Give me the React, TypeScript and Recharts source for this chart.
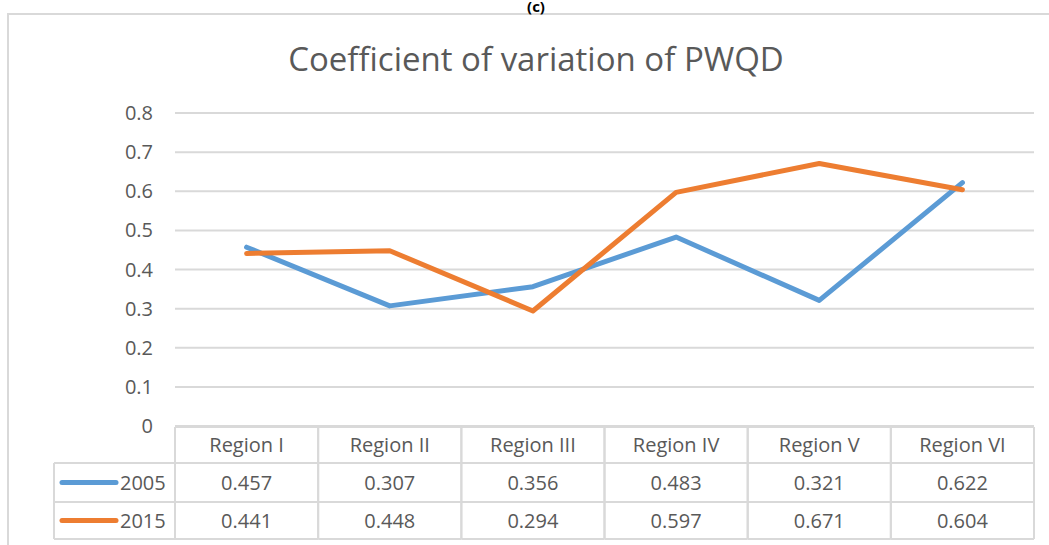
import React from 'react';
import { LineChart, Line, XAxis, YAxis, CartesianGrid, Customized } from 'recharts';

const categories = ['Region I', 'Region II', 'Region III', 'Region IV', 'Region V', 'Region VI'];
const series2005 = [0.457, 0.307, 0.356, 0.483, 0.321, 0.622];
const series2015 = [0.441, 0.448, 0.294, 0.597, 0.671, 0.604];
const seriesNames = ['2005', '2015'];
const yTicks = [0, 0.1, 0.2, 0.3, 0.4, 0.5, 0.6, 0.7, 0.8];
const titleText = 'Coefficient of variation of PWQD';
const panelLabel = '(c)';

const W = 1049;
const H = 545;
const ML = 175;
const MR = 15;
const MT = 113;
const MB = 119;
const CELL_W = (W - ML - MR) / categories.length;
const GRID = '#d9d9d9';
const TXT = '#595959';
const FONT = '"Open Sans", sans-serif';
const FS = 20;
const BLUE = '#5b9bd5';
const ORANGE = '#ed7d31';
const COLORS = [BLUE, ORANGE];
const SERIES = [series2005, series2015];

const data = categories.map((c, i) => ({ name: c, s2005: series2005[i], s2015: series2015[i] }));

// row offsets from the plot bottom
const R0 = 1, R1 = 37, R2 = 76, R3 = 113;

const TableTick = (props: any) => {
  const { x, y, payload, index } = props;
  const left = x - CELL_W / 2;
  const right = x + CELL_W / 2;
  const rows = [R0, R1, R2, R3];
  return (
    <g>
      {rows.map((r) => (
        <line key={r} x1={left} x2={right} y1={y + r} y2={y + r} stroke={GRID} strokeWidth={2} />
      ))}
      <line x1={left} x2={left} y1={y + R0} y2={y + R3} stroke={GRID} strokeWidth={2} />
      <line x1={right} x2={right} y1={y + R0} y2={y + R3} stroke={GRID} strokeWidth={2} />
      <text x={x} y={y + (R0 + R1) / 2} dy="0.36em" textAnchor="middle" fill={TXT} fontSize={FS} fontFamily={FONT}>
        {payload.value}
      </text>
      {SERIES.map((s, k) => (
        <text
          key={k}
          x={x}
          y={y + (k === 0 ? (R1 + R2) / 2 : (R2 + R3) / 2)}
          dy="0.36em"
          textAnchor="middle"
          fill={TXT}
          fontSize={FS}
          fontFamily={FONT}
        >
          {s[index].toFixed(3)}
        </text>
      ))}
    </g>
  );
};

const Overlay = () => {
  const y = H - MB;
  const lx = 54;
  return (
    <g>
      <rect x={8} y={14} width={W + 20} height={H + 20} fill="none" stroke={GRID} strokeWidth={2} />
      <text x={536} y={12} textAnchor="middle" fontSize={15} fontWeight="bold" fontFamily={FONT} fill="#000">
        {panelLabel}
      </text>
      <text x={536} y={71} textAnchor="middle" fontSize={33} fontFamily={FONT} fill={TXT}>
        {titleText}
      </text>
      {[R1, R2, R3].map((r) => (
        <line key={r} x1={lx} x2={ML} y1={y + r} y2={y + r} stroke={GRID} strokeWidth={2} />
      ))}
      <line x1={lx} x2={lx} y1={y + R1} y2={y + R3} stroke={GRID} strokeWidth={2} />
      {seriesNames.map((n, k) => {
        const cy = y + (k === 0 ? (R1 + R2) / 2 : (R2 + R3) / 2);
        return (
          <g key={n}>
            <line x1={62} x2={116} y1={cy} y2={cy} stroke={COLORS[k]} strokeWidth={5} strokeLinecap="round" />
            <text x={120} y={cy} dy="0.36em" fill={TXT} fontSize={FS} fontFamily={FONT}>
              {n}
            </text>
          </g>
        );
      })}
    </g>
  );
};

export default function App() {
  return (
    <div style={{ position: 'absolute', left: 0, top: 0, width: W, height: H, background: '#fff' }}>
      <LineChart width={W} height={H} data={data} margin={{ top: MT, right: MR, bottom: 0, left: 0 }}>
        <CartesianGrid vertical={false} stroke={GRID} strokeWidth={2} />
        <XAxis
          dataKey="name"
          height={MB}
          axisLine={false}
          tickLine={false}
          tickSize={0}
          tickMargin={0}
          interval={0}
          padding={{ left: CELL_W / 2, right: CELL_W / 2 }}
          tick={<TableTick />}
        />
        <YAxis
          width={ML}
          domain={[0, 0.8]}
          ticks={yTicks}
          axisLine={false}
          tickLine={false}
          tickSize={0}
          tickMargin={22}
          tick={{ fill: TXT, fontSize: FS, fontFamily: FONT }}
          tickFormatter={(v: number) => String(Math.round(v * 10) / 10)}
        />
        <Line dataKey="s2005" name={seriesNames[0]} stroke={BLUE} strokeWidth={5} dot={false} isAnimationActive={false} strokeLinecap="round" strokeLinejoin="round" />
        <Line dataKey="s2015" name={seriesNames[1]} stroke={ORANGE} strokeWidth={5} dot={false} isAnimationActive={false} strokeLinecap="round" strokeLinejoin="round" />
        <Customized component={Overlay} />
      </LineChart>
    </div>
  );
}
